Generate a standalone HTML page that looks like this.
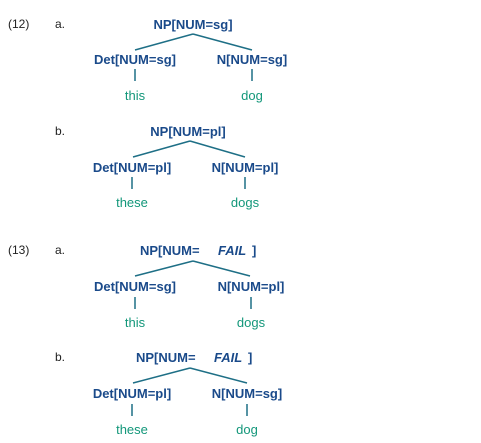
<!DOCTYPE html>
<html><head><style>
html,body{margin:0;padding:0;background:#fff;width:481px;height:443px;overflow:hidden}
svg text{font-family:"Liberation Sans",Arial,sans-serif;font-size:13px}
.n{fill:#1a4a8a;font-weight:bold}
.l{fill:#13977a}
.m{fill:#222;font-size:12px}
line{stroke:#1e6f86;stroke-width:1.5}
</style></head><body>
<svg width="481" height="443" xmlns="http://www.w3.org/2000/svg">
<text x="8" y="28" class="m">(12)</text>
<text x="55" y="28" class="m">a.</text>
<text x="193" y="29" class="n" text-anchor="middle">NP[NUM=sg]</text>
<line x1="193" y1="34" x2="135" y2="50"/><line x1="193" y1="34" x2="252" y2="50"/>
<text x="135" y="64" class="n" text-anchor="middle">Det[NUM=sg]</text>
<text x="252" y="64" class="n" text-anchor="middle">N[NUM=sg]</text>
<line x1="135" y1="69" x2="135" y2="81"/><line x1="252" y1="69" x2="252" y2="81"/>
<text x="135" y="100" class="l" text-anchor="middle">this</text>
<text x="252" y="100" class="l" text-anchor="middle">dog</text>

<text x="55" y="135" class="m">b.</text>
<text x="188" y="136" class="n" text-anchor="middle">NP[NUM=pl]</text>
<line x1="190" y1="141" x2="133" y2="157"/><line x1="190" y1="141" x2="245" y2="157"/>
<text x="132" y="172" class="n" text-anchor="middle">Det[NUM=pl]</text>
<text x="245" y="172" class="n" text-anchor="middle">N[NUM=pl]</text>
<line x1="132" y1="177" x2="132" y2="189"/><line x1="245" y1="177" x2="245" y2="189"/>
<text x="132" y="207" class="l" text-anchor="middle">these</text>
<text x="245" y="207" class="l" text-anchor="middle">dogs</text>

<text x="8" y="254" class="m">(13)</text>
<text x="55" y="254" class="m">a.</text>
<text x="140" y="255" class="n">NP[NUM=</text>
<text x="218" y="255" class="n" font-style="italic">FAIL</text>
<text x="252" y="255" class="n">]</text>
<line x1="193" y1="261" x2="135" y2="276"/><line x1="193" y1="261" x2="250" y2="276"/>
<text x="135" y="291" class="n" text-anchor="middle">Det[NUM=sg]</text>
<text x="251" y="291" class="n" text-anchor="middle">N[NUM=pl]</text>
<line x1="135" y1="297" x2="135" y2="309"/><line x1="251" y1="297" x2="251" y2="309"/>
<text x="135" y="327" class="l" text-anchor="middle">this</text>
<text x="251" y="327" class="l" text-anchor="middle">dogs</text>

<text x="55" y="361" class="m">b.</text>
<text x="136" y="362" class="n">NP[NUM=</text>
<text x="214" y="362" class="n" font-style="italic">FAIL</text>
<text x="248" y="362" class="n">]</text>
<line x1="190" y1="368" x2="133" y2="383"/><line x1="190" y1="368" x2="247" y2="383"/>
<text x="132" y="398" class="n" text-anchor="middle">Det[NUM=pl]</text>
<text x="247" y="398" class="n" text-anchor="middle">N[NUM=sg]</text>
<line x1="132" y1="404" x2="132" y2="416"/><line x1="247" y1="404" x2="247" y2="416"/>
<text x="132" y="434" class="l" text-anchor="middle">these</text>
<text x="247" y="434" class="l" text-anchor="middle">dog</text>
</svg>
</body></html>
